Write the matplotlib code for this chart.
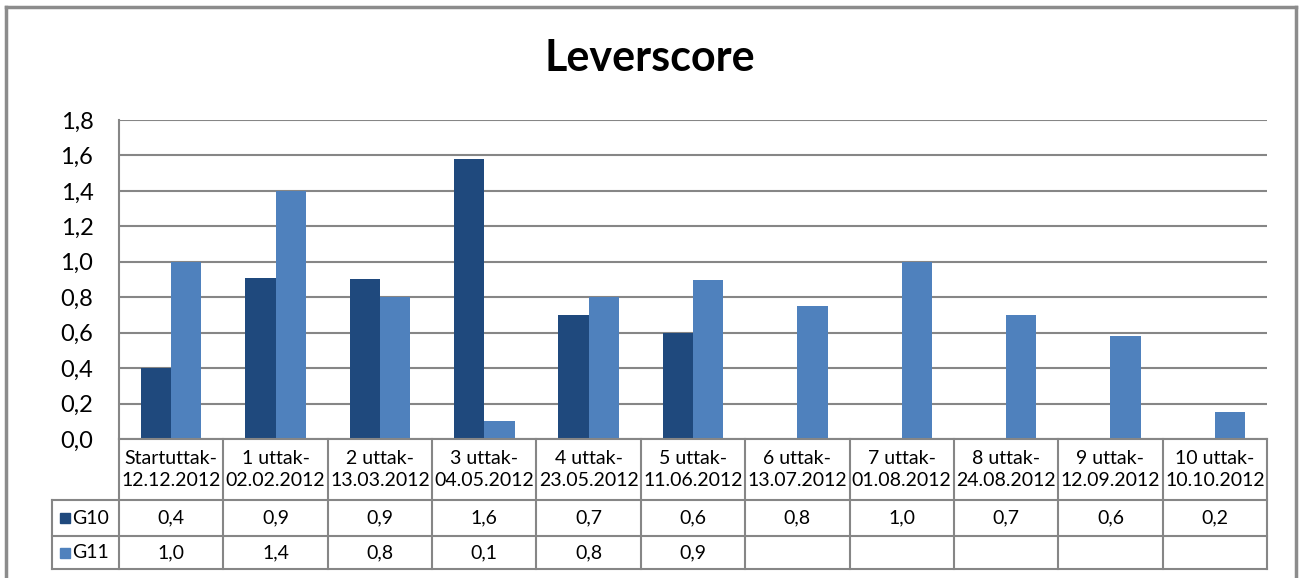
import numpy as np
import matplotlib
matplotlib.use('Agg')
import matplotlib.pyplot as plt
from matplotlib.patches import Rectangle
from matplotlib.lines import Line2D

plt.rcParams['font.family'] = ['Lato', 'DejaVu Sans']

# data
categories = ['Startuttak-\n12.12.2012', '1 uttak-\n02.02.2012', '2 uttak-\n13.03.2012',
              '3 uttak-\n04.05.2012', '4 uttak-\n23.05.2012', '5 uttak-\n11.06.2012',
              '6 uttak-\n13.07.2012', '7 uttak-\n01.08.2012', '8 uttak-\n24.08.2012',
              '9 uttak-\n12.09.2012', '10 uttak-\n10.10.2012']
g10 = [0.40, 0.91, 0.905, 1.58, 0.70, 0.60, np.nan, np.nan, np.nan, np.nan, np.nan]
g11 = [1.0, 1.4, 0.8, 0.1, 0.8, 0.9, 0.75, 1.0, 0.70, 0.58, 0.15]
g10_table = ['0,4', '0,9', '0,9', '1,6', '0,7', '0,6', '0,8', '1,0', '0,7', '0,6', '0,2']
g11_table = ['1,0', '1,4', '0,8', '0,1', '0,8', '0,9', '', '', '', '', '']
yticks = [0.0, 0.2, 0.4, 0.6, 0.8, 1.0, 1.2, 1.4, 1.6, 1.8]

c_dark = '#1F497D'
c_light = '#4F81BD'
c_grid = '#868686'

W, H = 1299, 578
fig = plt.figure(figsize=(W / 100, H / 100), dpi=100)

def fx(px):
  return px / W

def fy(py):
  return 1 - py / H

# outer frame (bottom is cut off)
fig.add_artist(Line2D([fx(6), fx(6)], [fy(7), 0], color='#8c8c8c', lw=2.5))
fig.add_artist(Line2D([fx(6), fx(1296)], [fy(7), fy(7)], color='#8c8c8c', lw=2.5))
fig.add_artist(Line2D([fx(1296), fx(1296)], [fy(7), 0], color='#8c8c8c', lw=2.5))

left, right, top, bottom = 119, 1267, 120, 439
ax = fig.add_axes([fx(left), fy(bottom), fx(right - left), fy(top) - fy(bottom)])

n = len(categories)
x = np.arange(n)
bw = 0.29
ax.bar(x - bw / 2, g10, bw, color=c_dark, zorder=3)
ax.bar(x + bw / 2, g11, bw, color=c_light, zorder=3)

ax.set_xlim(-0.5, n - 0.5)
ax.set_ylim(0, 1.8)
ax.set_yticks(yticks)
ax.set_yticklabels([f'{v:.1f}'.replace('.', ',') for v in yticks], fontsize=17)
ax.set_xticks([])
ax.tick_params(axis='y', length=0, pad=18.5)
ax.yaxis.grid(True, color=c_grid, lw=1.5, zorder=0)
for s in ['top', 'right', 'bottom']:
  ax.spines[s].set_visible(False)
ax.spines['left'].set_color(c_grid)
ax.spines['left'].set_linewidth(1.5)

fig.text(0.5, fy(58), 'Leverscore', ha='center', va='center',
         fontsize=31, fontweight='bold')

# data table below the axis
cw = (right - left) / n
rows = [439, 500, 536, 569]
lc = dict(color=c_grid, lw=1.5)
for r in rows:
  x0 = left if r == 439 else 52
  fig.add_artist(Line2D([fx(x0), fx(right)], [fy(r), fy(r)], **lc))
for i in range(n + 1):
  xx = left + i * cw
  fig.add_artist(Line2D([fx(xx), fx(xx)], [fy(439), fy(569)], **lc))
fig.add_artist(Line2D([fx(52), fx(52)], [fy(500), fy(569)], **lc))

fs = 14
for i in range(n):
  cx = fx(left + (i + 0.5) * cw)
  fig.text(cx, fy((439 + 500) / 2), categories[i], ha='center', va='center',
           fontsize=fs, linespacing=1.4)
  fig.text(cx, fy((500 + 536) / 2), g10_table[i], ha='center', va='center', fontsize=fs)
  fig.text(cx, fy((536 + 569) / 2), g11_table[i], ha='center', va='center', fontsize=fs)

for (name, col, r0, r1) in [('G10', c_dark, 500, 536), ('G11', c_light, 536, 569)]:
  cy = (r0 + r1) / 2
  fig.add_artist(Rectangle((fx(60), fy(cy + 5)), fx(10), fy(cy - 5) - fy(cy + 5), color=col))
  fig.text(fx(72), fy(cy), name, ha='left', va='center', fontsize=fs)

fig.savefig('out.png', dpi=100)
